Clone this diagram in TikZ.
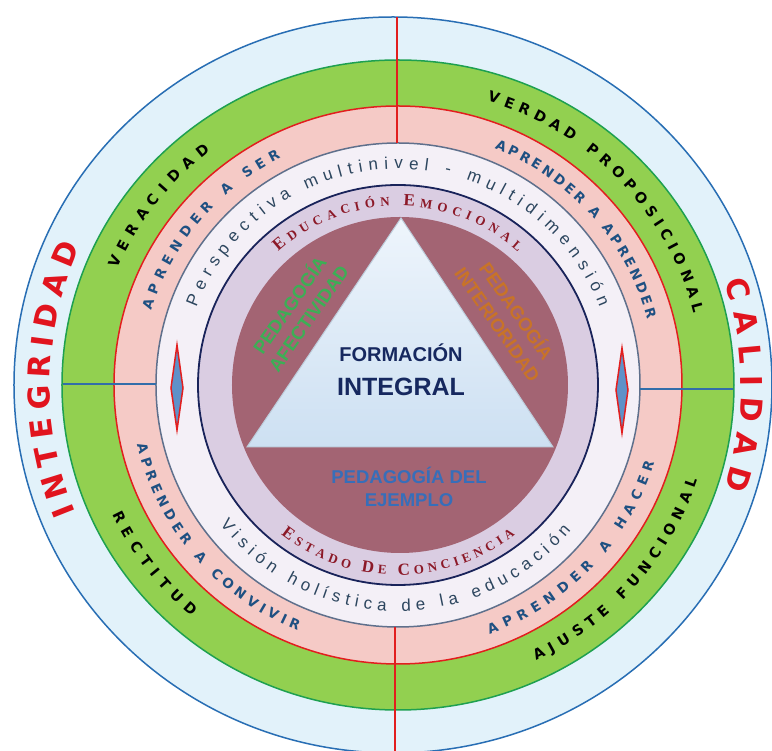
\documentclass[tikz,border=0pt]{standalone}
\usepackage{fontspec}
\setmainfont{Liberation Sans}[BoldFont={Liberation Sans Bold}]
\newfontfamily\heavyfont{DejaVu Sans Bold}
\newfontfamily\capsfont{Liberation Serif Bold}
\newfontfamily\boldsans{Liberation Sans Bold}
\usetikzlibrary{decorations.text}

\definecolor{outerfill}{RGB}{226,242,250}
\definecolor{outerline}{RGB}{40,110,180}
\definecolor{greenfill}{RGB}{146,208,80}
\definecolor{greenline}{RGB}{30,160,80}
\definecolor{pinkfill}{RGB}{245,202,198}
\definecolor{redline}{RGB}{226,30,30}
\definecolor{whitefill}{RGB}{244,240,247}
\definecolor{grayline}{RGB}{95,112,140}
\definecolor{navyline}{RGB}{25,35,90}
\definecolor{lilacfill}{RGB}{218,205,226}
\definecolor{mauvefill}{RGB}{163,100,115}
\definecolor{trifill}{RGB}{205,224,242}
\definecolor{trilight}{RGB}{238,245,252}
\definecolor{navytext}{RGB}{22,40,95}
\definecolor{steeltext}{RGB}{30,80,130}
\definecolor{slatetext}{RGB}{45,70,95}
\definecolor{wine}{RGB}{140,25,40}
\definecolor{leaf}{RGB}{60,175,85}
\definecolor{rust}{RGB}{200,115,40}
\definecolor{bluetext}{RGB}{55,110,185}
\definecolor{bigred}{RGB}{225,20,30}
\definecolor{gemfill}{RGB}{95,145,200}
\definecolor{rulerblue}{RGB}{50,110,170}

\newcommand\fntBig{\heavyfont\fontsize{30}{30}\selectfont\color{bigred}}
\newcommand\fntGreen{\heavyfont\fontsize{14.5}{14.5}\selectfont\color{black}}
\newcommand\fntPink{\heavyfont\fontsize{13.5}{13.5}\selectfont\color{steeltext}}
\newcommand\fntSoft{\fontsize{17}{17}\selectfont\color{slatetext}}
\newcommand\fntCapA{\capsfont\fontsize{17}{17}\selectfont\color{wine}}
\newcommand\fntCapB{\capsfont\fontsize{13}{13}\selectfont\color{wine}}

\tikzset{
	ring/.style = {
		line width=1.5pt
	},
	arc_text/.style = {
		decorate,
		decoration={text along path, text align={fit to path}, text={#1}}
	},
	tri_label/.style = {
		align=center,
		inner sep=0pt,
		text=navytext
	},
	ped_label/.style = {
		align=center,
		inner sep=0pt,
		font=\boldsans\fontsize{18.5}{23}\selectfont
	},
	gem/.style = {
		draw=redline,
		fill=gemfill,
		line width=1.5pt
	},
	red_rule/.style = {
		draw=redline,
		line width=2.5pt
	},
	blue_rule/.style = {
		draw=rulerblue,
		line width=1.6pt
	},
}

\begin{document}
\begin{tikzpicture}[x=1pt, y=1pt]
\useasboundingbox[fill=white] (-398,-366) rectangle (374,385);

% rings
\draw[ring, draw=outerline, fill=outerfill] (-5,0) ellipse [x radius=379, y radius=368];
\foreach \rx/\ry/\fc/\lc in {336/325/greenfill/greenline, 284/279/pinkfill/redline, 242/242/whitefill/grayline}
	\draw[ring, draw=\lc, fill=\fc] (0,0) ellipse [x radius=\rx, y radius=\ry];
\draw[line width=1.8pt, draw=navyline, fill=lilacfill] (0,0) circle (200);

% dividers
\coordinate (top_out) at (-1,368);
\coordinate (top_in) at (-1,242);
\coordinate (bot_in) at (-3,-242);
\coordinate (bot_out) at (-3,-370);
\coordinate (left_out) at (-335,1);
\coordinate (left_in) at (-242,1);
\coordinate (right_in) at (242,-4);
\coordinate (right_out) at (335,-4);
\draw[red_rule] (top_out) -- (top_in);
\draw[red_rule] (bot_in) -- (bot_out);
\draw[blue_rule] (left_out) -- (left_in);
\draw[blue_rule] (right_in) -- (right_out);

\draw[gem] (-221,40) -- (-215,-3) -- (-221,-45) -- (-227,-3) -- cycle;
\draw[gem] (224,37) -- (230,-5) -- (224,-48) -- (218,-5) -- cycle;

% core
\fill[mauvefill] (2,0) circle (168);
\shade[top color=trilight, bottom color=trifill, draw=trifill!80!gray, line width=1pt]
	(3,167) -- (155,-62) -- (-151,-62) -- cycle;

\node[tri_label, font=\boldsans\fontsize{20}{20}\selectfont] (formacion) at (3,32) {FORMACIÓN};
\node[tri_label, font=\boldsans\fontsize{25}{25}\selectfont] (integral) at (3,-2) {INTEGRAL};
\node[ped_label, text=leaf, rotate=55] (afectividad) at (-100,74) {PEDAGOGÍA\\AFECTIVIDAD};
\node[ped_label, text=rust, rotate=-55] (interioridad) at (110,68) {PEDAGOGÍA\\INTERIORIDAD};
\node[ped_label, text=bluetext] (ejemplo) at (11,-102) {PEDAGOGÍA DEL\\EJEMPLO};

% texts round the rings, top ones
\path[arc_text={|\fntBig|INTEGRIDAD}] (202:348 and 339) arc[start angle=202, end angle=156, x radius=348, y radius=339];
\path[arc_text={|\fntBig|CALIDAD}] (18:343 and 335) arc[start angle=18, end angle=-18, x radius=343, y radius=335];
\path[arc_text={|\fntGreen|VERACIDAD}] (157:305 and 297) arc[start angle=157, end angle=128, x radius=305, y radius=297];
\path[arc_text={|\fntGreen|VERDAD PROPOSICIONAL}] (73:305 and 297) arc[start angle=73, end angle=14, x radius=305, y radius=297];
\path[arc_text={|\fntPink|APRENDER A SER}] (163:258 and 255) arc[start angle=163, end angle=117, x radius=258, y radius=255];
\path[arc_text={|\fntPink|APRENDER A APRENDER}] (68:258 and 255) arc[start angle=68, end angle=15, x radius=258, y radius=255];
\path[arc_text={|\fntSoft|Perspectiva multinivel - multidimensión}] (159:216) arc[start angle=159, end angle=21, radius=216];
\path[arc_text={|\fntCapA|E|\fntCapB|DUCACIÓN |\fntCapA|E|\fntCapB|MOCIONAL}] (132:179) arc[start angle=132, end angle=48, radius=179];

% bottom ones
\path[arc_text={|\fntGreen|RECTITUD}] (205:315 and 307) arc[start angle=205, end angle=229, x radius=315, y radius=307];
\path[arc_text={|\fntGreen|AJUSTE FUNCIONAL}] (-64:315 and 307) arc[start angle=-64, end angle=-18, x radius=315, y radius=307];
\path[arc_text={|\fntPink|APRENDER A CONVIVIR}] (193:268 and 265) arc[start angle=193, end angle=248, x radius=268, y radius=265];
\path[arc_text={|\fntPink|APRENDER A HACER}] (-70:268 and 265) arc[start angle=-70, end angle=-17, x radius=268, y radius=265];
\path[arc_text={|\fntSoft|Visión holística de la educación}] (-142:226) arc[start angle=-142, end angle=-40, radius=226];
\path[arc_text={|\fntCapA|E|\fntCapB|STADO |\fntCapA|D|\fntCapB|E |\fntCapA|C|\fntCapB|ONCIENCIA}] (-128:190) arc[start angle=-128, end angle=-52, radius=190];
\end{tikzpicture}
\end{document}
